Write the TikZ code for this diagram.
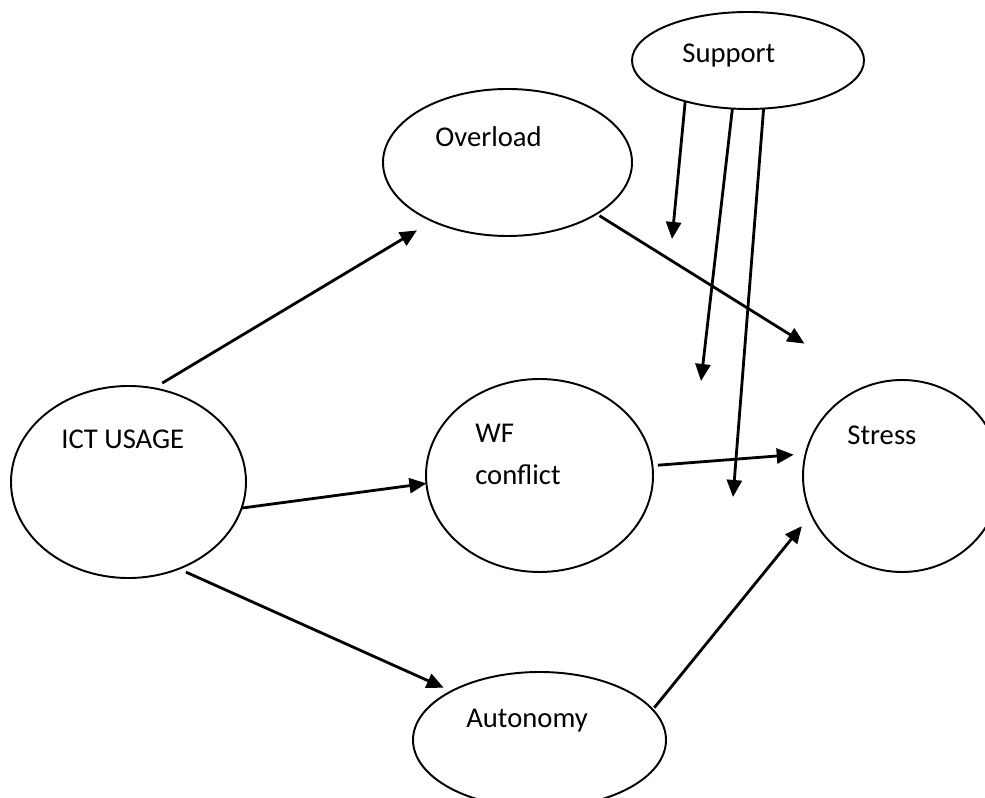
\documentclass[tikz,border=0pt]{standalone}
\usepackage{fontspec}
\setmainfont{Carlito}
\usetikzlibrary{arrows.meta,shapes.geometric}

\begin{document}
\begin{tikzpicture}

      \useasboundingbox (0,0) rectangle (19.7,15.94);
      \clip (0,0) rectangle (19.7,15.94);

      \begin{scope}[every node/.style={ellipse,draw,line width=1.1pt,inner sep=0pt,outer sep=0pt}]
        \node[minimum width=4.64cm, minimum height=1.94cm] (sup) at (14.96,14.73) {};
        \node[minimum width=4.98cm, minimum height=2.94cm] (ovl) at (10.15,12.69) {};
        \node[minimum width=4.70cm, minimum height=3.84cm] (ict) at (2.57,6.30)   {};
        \node[minimum width=4.54cm, minimum height=3.86cm] (wf)  at (10.79,6.43)  {};
        \node[minimum width=3.96cm, minimum height=3.84cm] (str) at (18.04,6.42)  {};
        \node[minimum width=5.06cm, minimum height=2.72cm] (aut) at (10.79,1.14)  {};
      \end{scope}

      \begin{scope}[every node/.style={anchor=base west,inner sep=0pt,font=\fontsize{16.3}{20}\selectfont}]
        \node (supt) at (13.64,14.68) {Support};
        \node (ovlt) at (8.70,13.00)  {Overload};
        \node (ictt) at (1.22,6.96)   {ICT USAGE};
        \node (wft)  at (9.50,7.08)   {WF};
        \node (wfc)  at (9.50,6.24)   {conflict};
        \node (strt) at (16.94,7.04)  {Stress};
        \node (autt) at (9.32,1.40)   {Autonomy};
      \end{scope}

      \coordinate (s1) at (13.44,11.16);
      \coordinate (s2) at (14.02,8.32);
      \coordinate (s3) at (14.66,6.00);

      \begin{scope}[every edge/.style={draw,line width=1.6pt,-{Triangle[length=0.34cm,width=0.3cm]}}]
        \path (ict.75.2)  edge[shorten <=0.20cm, shorten >=0.36cm] (ovl.218.7);
        \path (ict.347)   edge (wf.184);
        \path (ict.300.1) edge[shorten <=0.16cm, shorten >=0.17cm] (aut.151.3);
        \path (ovl.330)   edge[shorten <=0.07cm, shorten >=1.56cm] (str.109.9);
        \path (wf.5.7)    edge[shorten <=0.11cm, shorten >=0.24cm] (str.167.9);
        \path (aut.15.4)  edge[shorten <=0.05cm, shorten >=0.30cm] (str.203.5);
        \path (sup.213) edge (s1);
        \path (sup.252) edge (s2);
        \path (sup.288) edge (s3);
      \end{scope}

    \end{tikzpicture}
\end{document}
